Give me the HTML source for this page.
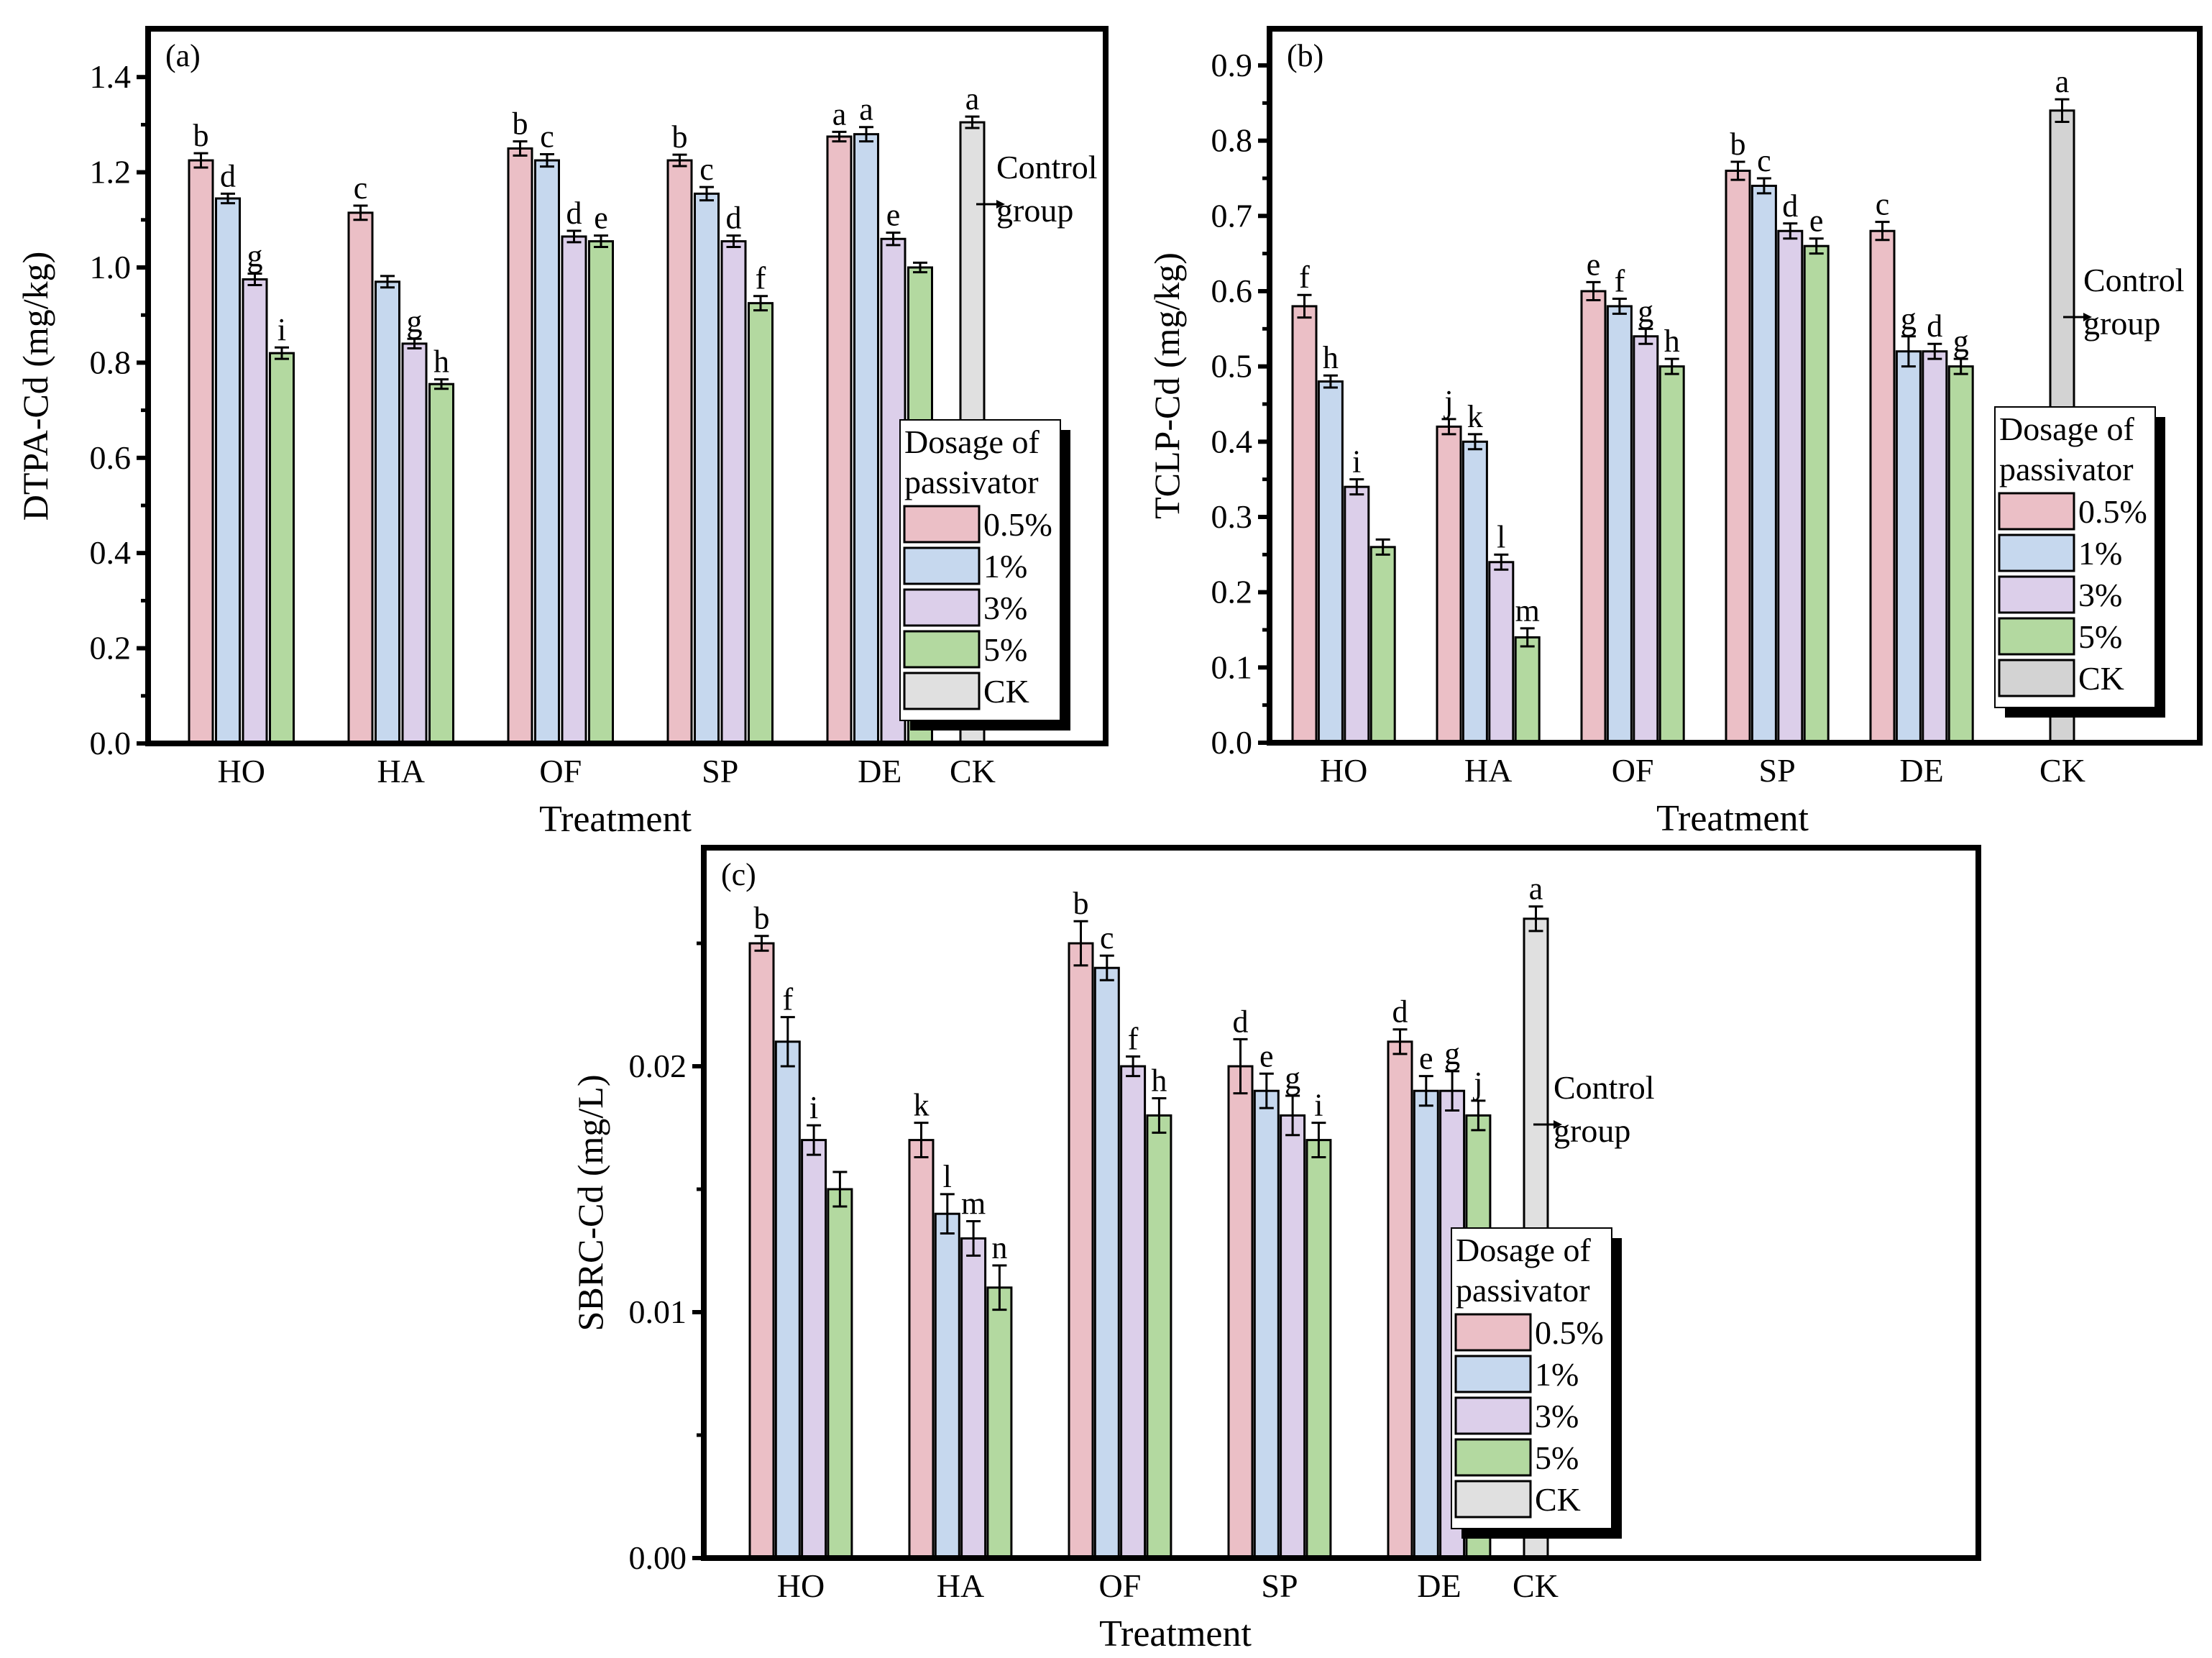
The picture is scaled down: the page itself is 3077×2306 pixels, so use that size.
<!DOCTYPE html>
<html><head><meta charset="utf-8"><style>
html,body{margin:0;padding:0;background:#fff}
svg{display:block;font-family:"Liberation Serif",serif}
</style></head><body>
<svg id="fig" width="3077" height="2306" viewBox="0 0 3077 2306" xmlns="http://www.w3.org/2000/svg"></svg>
<script>
const categories=["HO","HA","OF","SP","DE"];
const dosages=["0.5%","1%","3%","5%"];
const colors=["#ebbfc6","#c6d8ee","#dccfea","#b3d9a0"];
// panel a
const aVals=[[1.225,1.145,0.975,0.82],[1.115,0.97,0.84,0.755],[1.25,1.225,1.065,1.055],[1.225,1.155,1.055,0.925],[1.275,1.28,1.06,1.0]];
const aErr=[[0.015,0.01,0.012,0.012],[0.015,0.012,0.01,0.01],[0.015,0.013,0.012,0.012],[0.012,0.014,0.012,0.015],[0.01,0.015,0.013,0.01]];
const aLet=[["b","d","g","i"],["c","","g","h"],["b","c","d","e"],["b","c","d","f"],["a","a","e",""]];
const aCK=1.305,aCKErr=0.012;
const aTicks=["0.0","0.2","0.4","0.6","0.8","1.0","1.2","1.4"];
// panel b
const bVals=[[0.58,0.48,0.34,0.26],[0.42,0.40,0.24,0.14],[0.60,0.58,0.54,0.50],[0.76,0.74,0.68,0.66],[0.68,0.52,0.52,0.50]];
const bErr=[[0.015,0.008,0.01,0.01],[0.01,0.01,0.01,0.012],[0.012,0.01,0.01,0.01],[0.012,0.01,0.01,0.01],[0.012,0.02,0.01,0.01]];
const bLet=[["f","h","i",""],["j","k","l","m"],["e","f","g","h"],["b","c","d","e"],["c","g","d","g"]];
const bCK=0.84,bCKErr=0.015;
const bTicks=["0.0","0.1","0.2","0.3","0.4","0.5","0.6","0.7","0.8","0.9"];
// panel c
const cVals=[[0.025,0.021,0.017,0.015],[0.017,0.014,0.013,0.011],[0.025,0.024,0.020,0.018],[0.020,0.019,0.018,0.017],[0.021,0.019,0.019,0.018]];
const cErr=[[0.0003,0.001,0.0006,0.0007],[0.0007,0.0008,0.0007,0.0009],[0.0009,0.0005,0.0004,0.0007],[0.0011,0.0007,0.0008,0.0007],[0.0005,0.0006,0.0008,0.0006]];
const cLet=[["b","f","i",""],["k","l","m","n"],["b","c","f","h"],["d","e","g","i"],["d","e","g","j"]];
const cCK=0.026,cCKErr=0.0005;
const cTicks=["0.00","0.01","0.02"];

const svg=document.getElementById('fig');
const NS="http://www.w3.org/2000/svg";
function mk(tag,attrs,parent){const e=document.createElementNS(NS,tag);for(const k in attrs)e.setAttribute(k,attrs[k]);(parent||svg).appendChild(e);return e;}
function txt(s,x,y,size,anchor,parent){const t=mk('text',{x:x,y:y,'font-size':size,'text-anchor':anchor||'middle',fill:'#000'},parent);t.textContent=s;return t;}

function panel(cfg){
  const g=mk('g',{});
  
  
  const y=v=>cfg.B-v*cfg.scale;
  cfg.vals.forEach((grp,i)=>{
    grp.forEach((v,j)=>{
      const x=cfg.x0+i*cfg.group+j*cfg.step;
      const r=mk('rect',{x:x,y:y(v),width:cfg.bw,height:cfg.B-y(v),fill:colors[j],stroke:'#000','stroke-width':3},g);
      
      
      errbar(g,x+cfg.bw/2,y(v+cfg.err[i][j]),y(v-cfg.err[i][j]));
      if(cfg.lets[i][j]) txt(cfg.lets[i][j],x+cfg.bw/2,y(v+cfg.err[i][j])-10,44,'middle',g);
    });
  });
  const cx=cfg.ckx;
  const r=mk('rect',{x:cx,y:y(cfg.ck),width:cfg.bw,height:cfg.B-y(cfg.ck),fill:cfg.ckColor,stroke:'#000','stroke-width':3},g);
  
  
  errbar(g,cx+cfg.bw/2,y(cfg.ck+cfg.ckErr),y(cfg.ck-cfg.ckErr));
  txt('a',cx+cfg.bw/2,y(cfg.ck+cfg.ckErr)-10,44,'middle',g);
  mk('rect',{x:cfg.L,y:cfg.T,width:cfg.R-cfg.L,height:cfg.B-cfg.T,fill:'none',stroke:'#000','stroke-width':8},g);
  cfg.ticks.forEach((t,k)=>{
    const v=k*cfg.tstep;const yy=y(v);
    mk('line',{x1:cfg.L-16,x2:cfg.L,y1:yy,y2:yy,stroke:'#000','stroke-width':6},g);
    txt(t,cfg.L-24,yy+15,46,'end',g);
    const ym=y(v+cfg.tstep/2);
    if(ym>cfg.T+5) mk('line',{x1:cfg.L-10,x2:cfg.L,y1:ym,y2:ym,stroke:'#000','stroke-width':5},g);
  });
  categories.forEach((c,i)=>{
    const x=cfg.x0+i*cfg.group+1.5*cfg.step+cfg.bw/2;
    txt(c,x,cfg.B+54,46,'middle',g);
  });
  txt('CK',cfg.ckLabelX,cfg.B+54,46,'middle',g);
  const tt=txt('Treatment',cfg.titleX,cfg.B+122,52,'middle',g);
  
  
  const yt=txt(cfg.ytitle,0,0,50,'middle',g);
  yt.setAttribute('transform','translate('+cfg.ytx+','+((cfg.T+cfg.B)/2)+') rotate(-90)');
  
  
  txt('('+cfg.id+')',cfg.L+24,cfg.T+52,44,'start',g);
  txt('Control',cfg.ctrl[0],cfg.ctrl[1],46,'start',g);
  txt('group',cfg.ctrl[0],cfg.ctrl[1]+60,46,'start',g);
  mk('line',{x1:cfg.ctrl[0]-28,x2:cfg.ctrl[0]+6,y1:cfg.ctrl[1]+36,y2:cfg.ctrl[1]+36,stroke:'#000','stroke-width':3},g);
  mk('polygon',{points:(cfg.ctrl[0]+12)+','+(cfg.ctrl[1]+36)+' '+(cfg.ctrl[0])+','+(cfg.ctrl[1]+30)+' '+(cfg.ctrl[0])+','+(cfg.ctrl[1]+42),fill:'#000'},g);
  legend(g,cfg.leg[0],cfg.leg[1],cfg.ckColor,cfg.id);
}
function errbar(g,x,y1,y2){
  mk('line',{x1:x,x2:x,y1:y1,y2:y2,stroke:'#000','stroke-width':3},g);
  mk('line',{x1:x-10,x2:x+10,y1:y1,y2:y1,stroke:'#000','stroke-width':3},g);
  mk('line',{x1:x-10,x2:x+10,y1:y2,y2:y2,stroke:'#000','stroke-width':3},g);
}
function legend(g,x,y,ckc,id){
  const lg=mk('g',{},g);
  
  
  mk('rect',{x:x+14,y:y+14,width:223,height:418,fill:'#000'},lg);
  mk('rect',{x:x,y:y,width:223,height:418,fill:'#fff',stroke:'#000','stroke-width':2},lg);
  txt('Dosage of',x+6,y+46,46,'start',lg);
  txt('passivator',x+6,y+102,46,'start',lg);
  const labs=dosages.concat(['CK']);const cols=colors.concat([ckc]);
  labs.forEach((l,k)=>{
    const yy=y+120+k*58;
    mk('rect',{x:x+6,y:yy,width:104,height:50,fill:cols[k],stroke:'#000','stroke-width':3},lg);
    txt(l,x+116,yy+41,46,'start',lg);
  });
}
panel({id:'a',L:206,R:1538,T:40,B:1034,scale:662,vals:aVals,err:aErr,lets:aLet,ck:aCK,ckErr:aCKErr,ckColor:'#e0e0e0',
  x0:263,bw:33,step:37.5,group:222,ckx:1336,ckLabelX:1353,ticks:aTicks,tstep:0.2,titleX:856,ytx:66,ytitle:'DTPA-Cd (mg/kg)',
  ctrl:[1386,248],leg:[1252,584]});
panel({id:'b',L:1766,R:3060,T:40,B:1033,scale:1046.7,vals:bVals,err:bErr,lets:bLet,ck:bCK,ckErr:bCKErr,ckColor:'#d3d3d3',
  x0:1798,bw:33,step:36.4,group:201,ckx:2852,ckLabelX:2869,ticks:bTicks,tstep:0.1,titleX:2410,ytx:1640,ytitle:'TCLP-Cd (mg/kg)',
  ctrl:[2898,405],leg:[2775,566]});
panel({id:'c',L:979,R:2752,T:1179,B:2167,scale:34200,vals:cVals,err:cErr,lets:cLet,ck:cCK,ckErr:cCKErr,ckColor:'#e0e0e0',
  x0:1043,bw:33,step:36.3,group:222,ckx:2120,ckLabelX:2136,ticks:cTicks,tstep:0.01,titleX:1635,ytx:838,ytitle:'SBRC-Cd (mg/L)',
  ctrl:[2161,1528],leg:[2019,1708]});
</script>
</body></html>
